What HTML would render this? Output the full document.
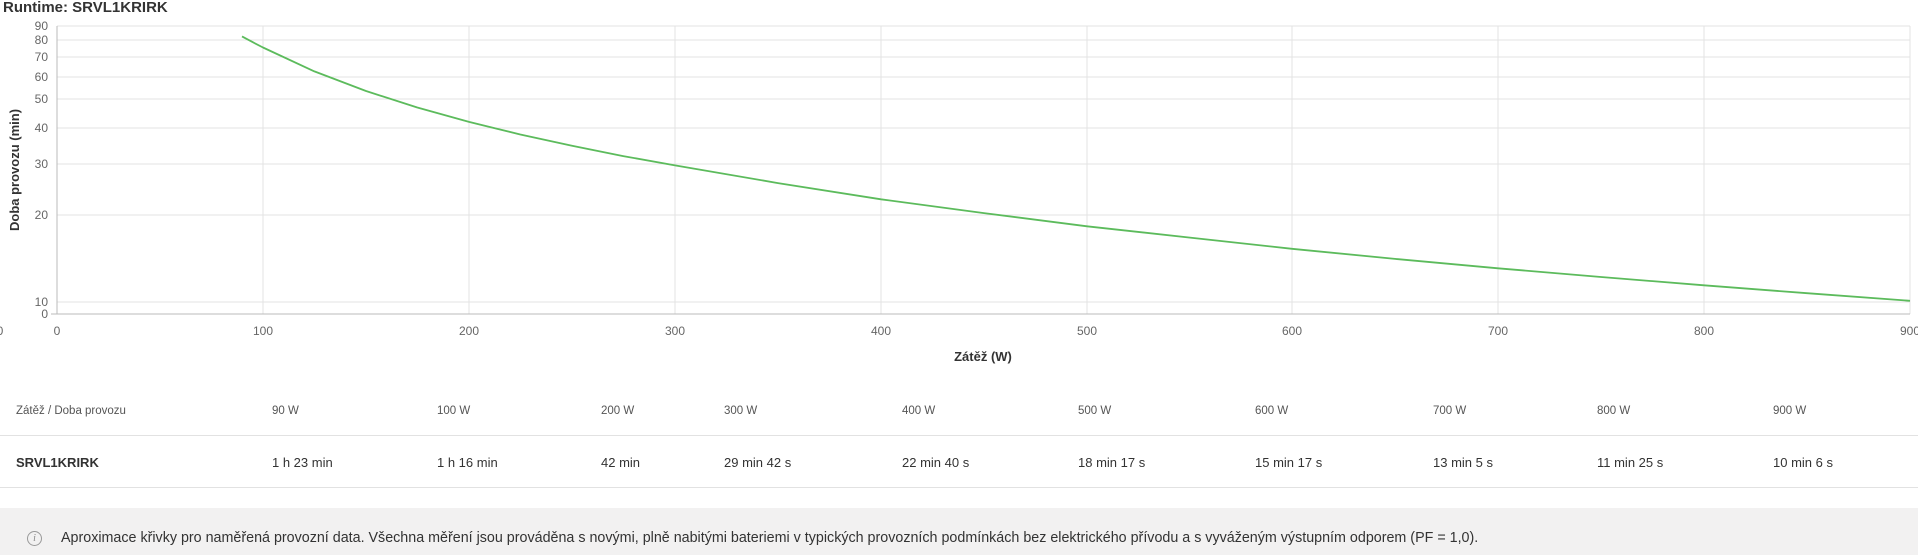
<!DOCTYPE html>
<html><head><meta charset="utf-8"><style>
body{margin:0;width:1918px;height:555px;background:#fff;font-family:"Liberation Sans",sans-serif;position:relative;overflow:hidden}
.t{position:absolute;white-space:nowrap}
.h{font-size:11.5px;color:#555;top:405px}
.d{font-size:13px;color:#333;top:455px}
</style></head><body>
<div class="t" style="left:3px;top:-1px;font-size:15px;font-weight:bold;color:#333">Runtime: SRVL1KRIRK</div>
<svg width="1918" height="370" style="position:absolute;left:0;top:0" font-family="Liberation Sans,sans-serif">
<g stroke="#e3e3e3" stroke-width="1">
<line x1="57" x2="1910" y1="26" y2="26"/><line x1="57" x2="1910" y1="40" y2="40"/><line x1="57" x2="1910" y1="57" y2="57"/><line x1="57" x2="1910" y1="77" y2="77"/><line x1="57" x2="1910" y1="99" y2="99"/><line x1="57" x2="1910" y1="128" y2="128"/><line x1="57" x2="1910" y1="164" y2="164"/><line x1="57" x2="1910" y1="215" y2="215"/><line x1="57" x2="1910" y1="302" y2="302"/>
<line x1="263" x2="263" y1="26" y2="314"/><line x1="469" x2="469" y1="26" y2="314"/><line x1="675" x2="675" y1="26" y2="314"/><line x1="881" x2="881" y1="26" y2="314"/><line x1="1087" x2="1087" y1="26" y2="314"/><line x1="1292" x2="1292" y1="26" y2="314"/><line x1="1498" x2="1498" y1="26" y2="314"/><line x1="1704" x2="1704" y1="26" y2="314"/><line x1="1910" x2="1910" y1="26" y2="314"/>
</g>
<line x1="57" x2="57" y1="26" y2="314" stroke="#bbb"/><line x1="51" x2="1910" y1="314" y2="314" stroke="#bbb"/>
<g font-size="12" fill="#666" text-anchor="end">
<text x="48" y="30">90</text><text x="48" y="44">80</text><text x="48" y="61">70</text><text x="48" y="81">60</text><text x="48" y="103">50</text><text x="48" y="132">40</text><text x="48" y="168">30</text><text x="48" y="219">20</text><text x="48" y="306">10</text><text x="48" y="318">0</text>
</g>
<g font-size="12" fill="#666" text-anchor="middle">
<text x="57" y="335">0</text><text x="263" y="335">100</text><text x="469" y="335">200</text><text x="675" y="335">300</text><text x="881" y="335">400</text><text x="1087" y="335">500</text><text x="1292" y="335">600</text><text x="1498" y="335">700</text><text x="1704" y="335">800</text><text x="1910" y="335">900</text><text x="0" y="335">0</text>
</g>
<text x="983" y="361" font-size="13" font-weight="bold" fill="#333" text-anchor="middle">Zátěž (W)</text>
<text transform="translate(19,170) rotate(-90)" font-size="13" font-weight="bold" fill="#333" text-anchor="middle">Doba provozu (min)</text>
<polyline fill="none" stroke="#5cbb5c" stroke-width="1.8" stroke-linejoin="round" points="242,36.4 252.6,42.1 263,47.5 314.4,71.4 366,91 417.3,107.5 469,121.9 520.3,134.5 572,145.8 623.2,156.1 675,165.4 778,183.1 881,199.3 984,213.1 1087,226.3 1190,237.6 1292,248.8 1395,258.9 1498,268.3 1601,277 1704,285.3 1807,293.2 1910,300.8"/>
</svg>
<div class="t h" style="left:16px">Zátěž / Doba provozu</div>
<div class="t h" style="left:272px">90 W</div><div class="t h" style="left:437px">100 W</div><div class="t h" style="left:601px">200 W</div><div class="t h" style="left:724px">300 W</div><div class="t h" style="left:902px">400 W</div><div class="t h" style="left:1078px">500 W</div><div class="t h" style="left:1255px">600 W</div><div class="t h" style="left:1433px">700 W</div><div class="t h" style="left:1597px">800 W</div><div class="t h" style="left:1773px">900 W</div>
<div style="position:absolute;left:0;width:1918px;top:435px;border-top:1px solid #e2e2e2"></div>
<div class="t d" style="left:16px;font-weight:bold">SRVL1KRIRK</div>
<div class="t d" style="left:272px">1 h 23 min</div><div class="t d" style="left:437px">1 h 16 min</div><div class="t d" style="left:601px">42 min</div><div class="t d" style="left:724px">29 min 42 s</div><div class="t d" style="left:902px">22 min 40 s</div><div class="t d" style="left:1078px">18 min 17 s</div><div class="t d" style="left:1255px">15 min 17 s</div><div class="t d" style="left:1433px">13 min 5 s</div><div class="t d" style="left:1597px">11 min 25 s</div><div class="t d" style="left:1773px">10 min 6 s</div>
<div style="position:absolute;left:0;width:1918px;top:487px;border-top:1px solid #e2e2e2"></div>
<div style="position:absolute;left:0;top:508px;width:1918px;height:47px;background:#f2f1f1"></div>
<div class="t" style="left:27px;top:531px;width:13px;height:13px;border:1px solid #999;border-radius:50%;font-size:10px;color:#888;text-align:center;line-height:13px;font-style:italic;font-family:'Liberation Serif',serif">i</div>
<div class="t" style="left:61px;top:530px;font-size:14.3px;color:#333">Aproximace křivky pro naměřená provozní data. Všechna měření jsou prováděna s novými, plně nabitými bateriemi v typických provozních podmínkách bez elektrického přívodu a s vyváženým výstupním odporem (PF = 1,0).</div>
</body></html>
